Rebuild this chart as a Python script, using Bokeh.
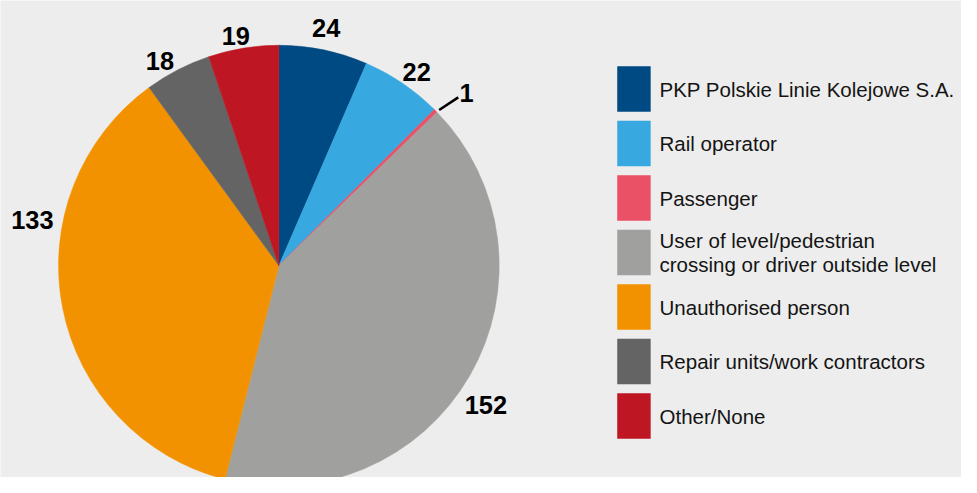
import math
from bokeh.plotting import figure
from bokeh.models import Range1d
from bokeh.embed import file_html
from bokeh.resources import INLINE
from bokeh.core.properties import value

# ---- data ----
categories = [
    "PKP Polskie Linie Kolejowe S.A.",
    "Rail operator",
    "Passenger",
    "User of level/pedestrian\ncrossing or driver outside level",
    "Unauthorised person",
    "Repair units/work contractors",
    "Other/None",
]
counts = [24, 22, 1, 152, 133, 18, 19]
colors = ["#004a83", "#38a9e0", "#ea5167", "#a0a09e", "#f39200", "#646464", "#be1622"]

# ---- style / layout ----
BG = "#ededed"
FONT = "Liberation Sans"
W, H = 961, 477
FW, FH = 977, 493                   # frame coordinates
S = (W / FW + H / FH) / 2           # font scale
CX, CY, R = 283, 274, 224           # pie centre / radius in frame units
label_r = [250, 244, 261, 255, 255, 244, 241]
label_nudge = [-0.6, 0.9, 1.6, 4.4, 21.6, -2.4, -1.2]  # degrees
leader = [None, None, (229, 252, 0.0, 1.0), None, None, None, None]

p = figure(width=W, height=H, output_backend="svg", toolbar_location=None,
           x_axis_type=None, y_axis_type=None,
           x_range=Range1d(0, FW), y_range=Range1d(-FH, 0),
           min_border=0)
p.background_fill_color = BG
p.border_fill_color = BG
p.outline_line_color = None
p.grid.visible = False

total = sum(counts)
cum = 0
starts, ends, mids = [], [], []
for c in counts:
    a0 = math.pi / 2 - 2 * math.pi * cum / total
    a1 = math.pi / 2 - 2 * math.pi * (cum + c) / total
    starts.append(a0)
    ends.append(a1)
    mids.append((cum + c / 2) / total * 360.0)
    cum += c

p.wedge(x=CX, y=-CY, radius=R, start_angle=starts, end_angle=ends,
        direction="clock", fill_color=colors, line_color=colors, line_width=0.5)

# value labels
lx, ly, lt = [], [], []
for i, c in enumerate(counts):
    th = math.radians(mids[i] + label_nudge[i])
    lx.append(CX + label_r[i] * math.sin(th))
    ly.append(-CY + label_r[i] * math.cos(th))
    lt.append(str(c))
p.text(x=lx, y=ly, text=lt, text_font=value(FONT), text_font_size="%.1fpx" % (26 * S),
       text_font_style="bold", text_align="center", text_baseline="middle",
       text_color="black")

# leader lines
for i, ld in enumerate(leader):
    if ld is None:
        continue
    r0, r1, n0, n1 = ld
    t0 = math.radians(mids[i] + n0)
    t1 = math.radians(mids[i] + n1)
    p.line(x=[CX + r0 * math.sin(t0), CX + r1 * math.sin(t1)],
           y=[-CY + r0 * math.cos(t0), -CY + r1 * math.cos(t1)],
           line_color="black", line_width=2.5)

# legend
LEG_X0, LEG_X1, LEG_TOP, LEG_STEP, LEG_H = 627, 661, 68, 56.33, 47
tops = [-(LEG_TOP + i * LEG_STEP) for i in range(len(categories))]
p.quad(left=LEG_X0, right=LEG_X1, top=tops, bottom=[t - LEG_H for t in tops],
       fill_color=colors, line_color=None)
tx, ty, tt = [], [], []
for i, name in enumerate(categories):
    lines = name.split("\n")
    cy = tops[i] - LEG_H / 2
    n = len(lines)
    for j, ln in enumerate(lines):
        tx.append(670)
        ty.append(cy + (n - 1) * 12.25 - j * 24.5)
        tt.append(ln)
p.text(x=tx, y=ty, text=tt, text_font=value(FONT), text_font_size="%.1fpx" % (21 * S),
       text_align="left", text_baseline="middle", text_color="#141414")

html = file_html(p, INLINE)
html = html.replace("<body>", '<body style="background:%s">' % BG, 1)
open("out.html", "w").write(html)
